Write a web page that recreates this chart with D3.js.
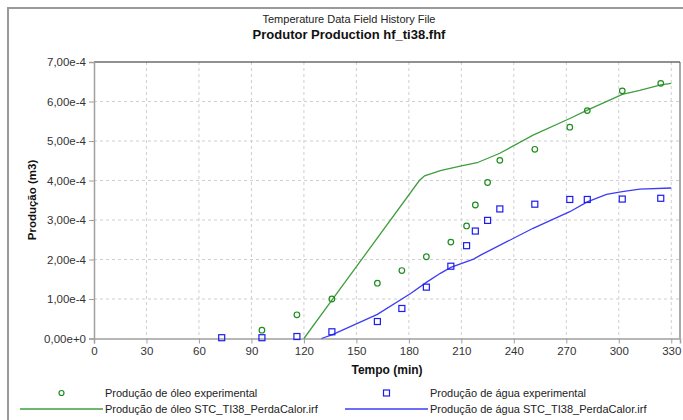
<!DOCTYPE html>
<html>
<head>
<meta charset="utf-8">
<script src="https://cdn.jsdelivr.net/npm/d3@7"></script>
<style>
    body { margin: 0; background: #fff; }
    svg { display: block; font-family: "Liberation Sans", Arial, sans-serif; }
    .tick-label { font-size: 11.5px; fill: #333; }
    .legend-text { font-size: 11px; fill: #222; }
</style>
</head>
<body>
<div id="chart"></div>
<script>
// experimental points (time in min, production in m3)
const oilExpTime = [96, 116, 136, 162, 176, 190, 204, 213, 218, 225, 232, 252, 272, 282, 302, 324];
const oilExpValue = [0.21e-4, 0.60e-4, 1.00e-4, 1.40e-4, 1.72e-4, 2.07e-4, 2.44e-4, 2.85e-4, 3.38e-4,
    3.95e-4, 4.51e-4, 4.79e-4, 5.35e-4, 5.77e-4, 6.27e-4, 6.46e-4];

const waterExpTime = [73, 96, 116, 136, 162, 176, 190, 204, 213, 218, 225, 232, 252, 272, 282, 302, 324];
const waterExpValue = [0.02e-4, 0.02e-4, 0.05e-4, 0.17e-4, 0.43e-4, 0.76e-4, 1.30e-4, 1.83e-4, 2.35e-4,
    2.72e-4, 2.99e-4, 3.28e-4, 3.40e-4, 3.52e-4, 3.52e-4, 3.53e-4, 3.55e-4];

// simulated curves (STC_TI38_PerdaCalor.irf)
const oilSimTime = [120, 136, 186, 189, 198, 210, 219, 232, 251, 272, 282, 297, 302, 312, 324, 330];
const oilSimValue = [0, 0.97e-4, 4.00e-4, 4.12e-4, 4.25e-4, 4.37e-4, 4.45e-4, 4.69e-4, 5.15e-4,
    5.57e-4, 5.78e-4, 6.08e-4, 6.18e-4, 6.28e-4, 6.42e-4, 6.46e-4];

const waterSimTime = [130, 136, 162, 181, 190, 198, 204, 217, 221, 251, 272, 282, 293, 302, 312, 330];
const waterSimValue = [0, 0.09e-4, 0.61e-4, 1.14e-4, 1.42e-4, 1.65e-4, 1.80e-4, 2.01e-4, 2.11e-4,
    2.79e-4, 3.21e-4, 3.46e-4, 3.65e-4, 3.72e-4, 3.78e-4, 3.81e-4];

const xTicks = [0, 30, 60, 90, 120, 150, 180, 210, 240, 270, 300, 330];
const yTicks = [0, 1e-4, 2e-4, 3e-4, 4e-4, 5e-4, 6e-4, 7e-4];

const legendLabels = [
    'Produção de óleo experimental',
    'Produção de água experimental',
    'Produção de óleo STC_TI38_PerdaCalor.irf',
    'Produção de água STC_TI38_PerdaCalor.irf'
];

const GREEN = '#1e8c1e';
const GREEN_LINE = '#3f9e3f';
const BLUE = '#1c1cf0';
const BLUE_LINE = '#3c3cf5';

class ProductionChart {
    constructor() {
        this.width = 683;
        this.height = 420;
        this.plot = { left: 94, right: 680, top: 62, bottom: 338.5 };
    }

    // format like "7,00e-4"
    formatTick(v) {
        if (v === 0) return '0,00e+0';
        const exp = Math.floor(Math.log10(v) + 1e-9);
        const mant = (v / Math.pow(10, exp)).toFixed(2).replace('.', ',');
        return `${mant}e${exp < 0 ? '-' : '+'}${Math.abs(exp)}`;
    }

    draw() {
        const p = this.plot;
        const svg = d3.select('#chart').append('svg')
            .attr('width', this.width)
            .attr('height', this.height);

        // outer frame (left and top edges only visible)
        svg.append('path')
            .attr('d', `M8,${this.height} L8,8 L${this.width},8`)
            .attr('fill', 'none')
            .attr('stroke', '#9a9a9a')
            .attr('stroke-width', 2);

        // titles
        svg.append('text')
            .attr('x', 349).attr('y', 23)
            .attr('text-anchor', 'middle')
            .style('font-size', '11px').style('fill', '#222')
            .text('Temperature Data Field History File');
        svg.append('text')
            .attr('x', 349).attr('y', 39)
            .attr('text-anchor', 'middle')
            .style('font-size', '13px').style('font-weight', 'bold').style('fill', '#111')
            .text('Produtor Production hf_ti38.fhf');

        const x = d3.scaleLinear().domain([0, 335]).range([p.left, p.right]);
        const y = d3.scaleLinear().domain([0, 7e-4]).range([p.bottom, p.top]);

        // grid
        svg.append('g').selectAll('line')
            .data(xTicks.slice(1))
            .enter().append('line')
            .attr('x1', d => x(d)).attr('x2', d => x(d))
            .attr('y1', p.top).attr('y2', p.bottom)
            .attr('stroke', '#cfcfcf').attr('stroke-dasharray', '3,3');
        svg.append('g').selectAll('line')
            .data(yTicks.slice(1, -1))
            .enter().append('line')
            .attr('x1', p.left).attr('x2', p.right)
            .attr('y1', d => y(d)).attr('y2', d => y(d))
            .attr('stroke', '#cfcfcf').attr('stroke-dasharray', '3,3');

        // plot frame top / right
        svg.append('line')
            .attr('x1', p.left).attr('x2', p.right)
            .attr('y1', p.top).attr('y2', p.top)
            .attr('stroke', '#222');
        svg.append('line')
            .attr('x1', p.right).attr('x2', p.right)
            .attr('y1', p.top).attr('y2', p.bottom)
            .attr('stroke', '#555');

        // axes
        const xAxis = svg.append('g')
            .attr('transform', `translate(0,${p.bottom})`)
            .call(d3.axisBottom(x).tickValues(xTicks).tickSize(5).tickPadding(3));
        const yAxis = svg.append('g')
            .attr('transform', `translate(${p.left},0)`)
            .call(d3.axisLeft(y).tickValues(yTicks).tickSize(5).tickPadding(3)
                .tickFormat(d => this.formatTick(d)));
        [xAxis, yAxis].forEach(a => {
            a.select('.domain').attr('stroke', '#a0a0a0').attr('stroke-width', 1.5);
            a.selectAll('.tick line').attr('stroke', '#a0a0a0');
            a.selectAll('.tick text').attr('class', 'tick-label').attr('fill', null)
                .style('font-family', 'Liberation Sans, Arial, sans-serif');
        });

        // axis titles
        svg.append('text')
            .attr('x', 387).attr('y', 374)
            .attr('text-anchor', 'middle')
            .style('font-size', '12px').style('font-weight', 'bold').style('fill', '#111')
            .text('Tempo (min)');
        svg.append('text')
            .attr('transform', 'translate(36,200) rotate(-90)')
            .attr('text-anchor', 'middle')
            .style('font-size', '11.5px').style('font-weight', 'bold').style('fill', '#111')
            .text('Produção (m3)');

        // simulated lines
        const line = d3.line().x(d => x(d[0])).y(d => y(d[1]));
        svg.append('path')
            .datum(d3.zip(oilSimTime, oilSimValue))
            .attr('d', line)
            .attr('fill', 'none').attr('stroke', GREEN_LINE).attr('stroke-width', 1.3);
        svg.append('path')
            .datum(d3.zip(waterSimTime, waterSimValue))
            .attr('d', line)
            .attr('fill', 'none').attr('stroke', BLUE_LINE).attr('stroke-width', 1.3);

        // experimental markers
        svg.append('g').selectAll('circle')
            .data(d3.zip(oilExpTime, oilExpValue))
            .enter().append('circle')
            .attr('cx', d => x(d[0])).attr('cy', d => y(d[1]))
            .attr('r', 2.8)
            .attr('fill', 'none').attr('stroke', GREEN).attr('stroke-width', 1.2);
        svg.append('g').selectAll('rect')
            .data(d3.zip(waterExpTime, waterExpValue))
            .enter().append('rect')
            .attr('x', d => x(d[0]) - 3).attr('y', d => y(d[1]) - 3)
            .attr('width', 6).attr('height', 6)
            .attr('fill', 'none').attr('stroke', BLUE).attr('stroke-width', 1.2);

        this.drawLegend(svg);
    }

    drawLegend(svg) {
        const cols = [20, 345];
        const rows = [393, 409];
        const lineLen = 83;

        // row 1: markers
        svg.append('circle')
            .attr('cx', cols[0] + lineLen / 2).attr('cy', rows[0])
            .attr('r', 2.5)
            .attr('fill', 'none').attr('stroke', GREEN).attr('stroke-width', 1.2);
        svg.append('rect')
            .attr('x', cols[1] + lineLen / 2 - 3).attr('y', rows[0] - 3)
            .attr('width', 6).attr('height', 6)
            .attr('fill', 'none').attr('stroke', BLUE).attr('stroke-width', 1.2);

        // row 2: lines
        svg.append('line')
            .attr('x1', cols[0]).attr('x2', cols[0] + lineLen)
            .attr('y1', rows[1]).attr('y2', rows[1])
            .attr('stroke', GREEN_LINE).attr('stroke-width', 1.3);
        svg.append('line')
            .attr('x1', cols[1]).attr('x2', cols[1] + lineLen)
            .attr('y1', rows[1]).attr('y2', rows[1])
            .attr('stroke', BLUE_LINE).attr('stroke-width', 1.3);

        legendLabels.forEach((label, i) => {
            svg.append('text')
                .attr('class', 'legend-text')
                .attr('x', cols[i % 2] + lineLen + 2)
                .attr('y', rows[Math.floor(i / 2)])
                .attr('dy', '0.35em')
                .text(label);
        });
    }
}

document.addEventListener('DOMContentLoaded', () => {
    const chart = new ProductionChart();
    chart.draw();
});
</script>
</body>
</html>
